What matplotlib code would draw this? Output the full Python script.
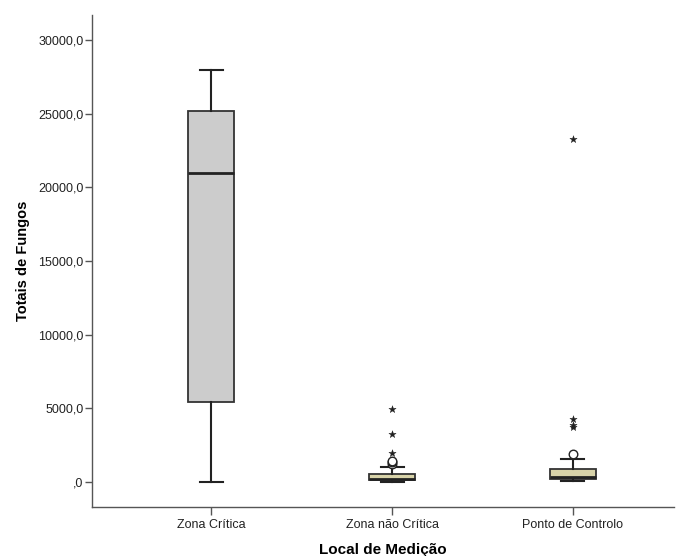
import matplotlib
matplotlib.use("Agg")
import matplotlib.pyplot as plt
from matplotlib.ticker import FuncFormatter

categories = ["Zona Crítica", "Zona não Crítica", "Ponto de Controlo"]
q1 = [5400, 130, 200]
median = [21000, 220, 340]
q3 = [25200, 540, 880]
whisker_low = [0, 0, 50]
whisker_high = [28000, 1000, 1560]
outliers_circle = [[], [1250, 1350, 1450], [1900]]
outliers_star = [[], [1970, 3260, 4950], [3700, 3850, 4300, 23300]]
fill_colors = ["#cccccc", "#d8d3a9", "#d8d3a9"]

yticks = [0, 5000, 10000, 15000, 20000, 25000, 30000]

plt.rcParams['font.family'] = ['Liberation Sans', 'DejaVu Sans']

fig = plt.figure(figsize=(6.81, 5.56), dpi=100)
ax = fig.add_axes([92/681, 49/556, (674-92)/681, (507-15)/556])

positions = list(range(1, len(categories) + 1))
stats = []
for i in range(len(categories)):
    stats.append(dict(med=median[i], q1=q1[i], q3=q3[i],
                      whislo=whisker_low[i], whishi=whisker_high[i],
                      fliers=[], label=categories[i]))

bp = ax.bxp(stats, positions=positions, widths=0.255, capwidths=0.127,
            patch_artist=True, showfliers=False,
            boxprops=dict(edgecolor="#333333", linewidth=1.3),
            whiskerprops=dict(color="#222222", linewidth=1.5),
            capprops=dict(color="#222222", linewidth=1.5),
            medianprops=dict(color="#222222", linewidth=2.0))
for patch, c in zip(bp['boxes'], fill_colors):
    patch.set_facecolor(c)

for p, vals in zip(positions, outliers_circle):
    if vals:
        ax.scatter([p] * len(vals), vals, s=38, facecolors="white",
                   edgecolors="#222222", linewidths=1.0, zorder=3)
for p, vals in zip(positions, outliers_star):
    if vals:
        ax.scatter([p] * len(vals), vals, s=30, marker="*", color="#222222",
                   linewidths=0.3, zorder=3)

ax.set_xlim(0.34, 3.56)
ax.set_ylim(-1697, 31700)
ax.set_yticks(yticks)

def fmt(v, pos):
    if v == 0:
        return ",0"
    return f"{int(v)},0"

ax.yaxis.set_major_formatter(FuncFormatter(fmt))
ax.set_xticks(positions)
ax.set_xticklabels(categories)

for s in ["top", "right"]:
    ax.spines[s].set_visible(False)
for s in ["left", "bottom"]:
    ax.spines[s].set_color("#555555")
    ax.spines[s].set_linewidth(1.0)

ax.tick_params(axis="y", direction="out", length=5, width=1, color="#555555",
               labelsize=9, labelcolor="#222222", pad=1)
ax.tick_params(axis="x", direction="out", length=6, width=1, color="#555555",
               labelsize=9, labelcolor="#222222", pad=3)

ax.set_ylabel("Totais de Fungos", fontsize=10.5, fontweight="bold", labelpad=6)
ax.set_xlabel("Local de Medição", fontsize=11, fontweight="bold", labelpad=8)

fig.savefig("out.png", dpi=100)
